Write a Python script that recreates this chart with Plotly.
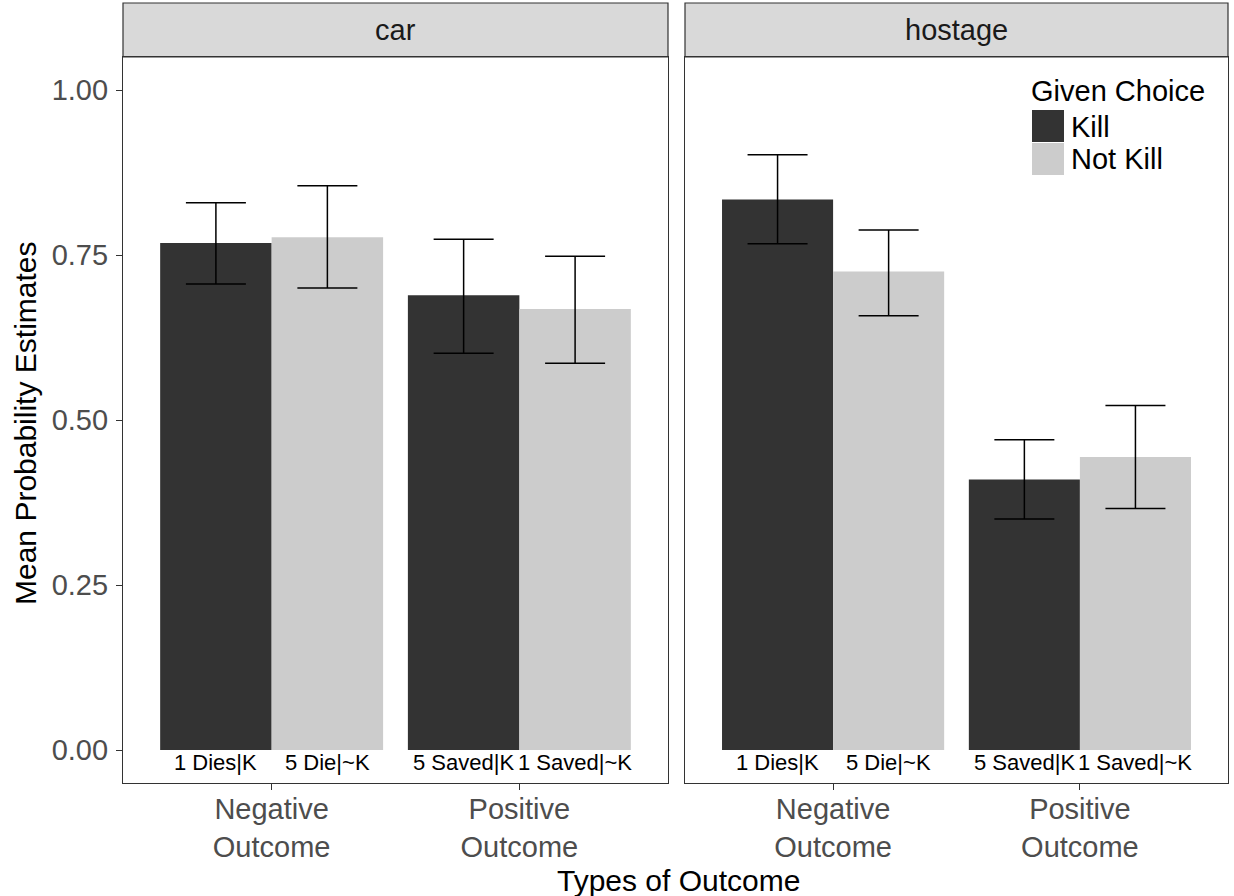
import plotly.graph_objects as go

# ---------------- data ----------------
facets = ["car", "hostage"]
outcomes = ["Negative<br>Outcome", "Positive<br>Outcome"]
choices = ["Kill", "Not Kill"]
choice_colors = ["#333333", "#cccccc"]

# mean probability estimates [Negative, Positive]
car_kill = [0.768, 0.689]
car_notkill = [0.777, 0.668]
hostage_kill = [0.834, 0.410]
hostage_notkill = [0.725, 0.444]

# error bar upper / lower ends
car_kill_hi = [0.829, 0.774]
car_kill_lo = [0.706, 0.601]
car_notkill_hi = [0.855, 0.748]
car_notkill_lo = [0.700, 0.586]
hostage_kill_hi = [0.902, 0.470]
hostage_kill_lo = [0.767, 0.350]
hostage_notkill_hi = [0.788, 0.522]
hostage_notkill_lo = [0.658, 0.366]

# labels printed under each bar
kill_labels = ["1 Dies|K", "5 Saved|K"]
notkill_labels = ["5 Die|~K", "1 Saved|~K"]

y_ticks = [0.0, 0.25, 0.50, 0.75, 1.00]

series = {
    "car": [(car_kill, car_kill_hi, car_kill_lo), (car_notkill, car_notkill_hi, car_notkill_lo)],
    "hostage": [(hostage_kill, hostage_kill_hi, hostage_kill_lo),
                (hostage_notkill, hostage_notkill_hi, hostage_notkill_lo)],
}
bar_labels = [kill_labels, notkill_labels]

# ---------------- figure ----------------
W, H = 1234, 896
ML, MR, MT, MB = 123, 6, 3, 113
plot_w = W - ML - MR
plot_h = H - MT - MB
strip_h = 54
panel_top = (plot_h - strip_h) / plot_h

FONT = "Liberation Sans, Arial, sans-serif"
TXT = 29
x_pos = list(range(len(outcomes)))
bar_w = 0.9 / len(choices)

fig = go.Figure()
axes = [("x", "y"), ("x2", "y2")]
annotations = []
shapes = []

for f, facet in enumerate(facets):
    xa, ya = axes[f]
    for c, choice in enumerate(choices):
        mean, hi, lo = series[facet][c]
        fig.add_trace(go.Bar(
            x=x_pos, y=mean, name=choice, xaxis=xa, yaxis=ya,
            marker=dict(color=choice_colors[c], line=dict(width=0)),
            showlegend=False, offsetgroup=str(c),
            error_y=dict(type="data", symmetric=False,
                         array=[h - m for h, m in zip(hi, mean)],
                         arrayminus=[m - l for m, l in zip(mean, lo)],
                         color="black", thickness=1.5, width=30),
        ))
        for i, lab in enumerate(bar_labels[c]):
            annotations.append(dict(
                x=x_pos[i] + (c - (len(choices) - 1) / 2) * bar_w, y=0,
                xref=xa, yref=ya, text=lab, showarrow=False,
                yanchor="top", xanchor="center", yshift=2,
                font=dict(family=FONT, size=22, color="black")))
    # strip
    dom = "x domain" if f == 0 else "x2 domain"
    shapes.append(dict(type="rect", xref=dom, yref="paper", x0=0, x1=1,
                       y0=panel_top, y1=1.0, fillcolor="#d9d9d9",
                       line=dict(color="#333333", width=1.2), layer="below"))
    annotations.append(dict(xref=dom, yref="paper", x=0.5, y=(panel_top + 1) / 2,
                            xanchor="center", yanchor="middle",
                            text=facet, showarrow=False,
                            font=dict(family=FONT, size=TXT, color="#1a1a1a")))

# legend drawn in the hostage panel
def px_x(px):
    return (px - ML) / plot_w

def px_y(py):
    return (MT + plot_h - py) / plot_h

annotations.append(dict(xref="paper", yref="paper", x=px_x(1029), y=px_y(91),
                        xanchor="left", yanchor="middle", text="Given Choice",
                        showarrow=False, font=dict(family=FONT, size=TXT, color="black")))
key = 33
for c, choice in enumerate(choices):
    top = 110 + c * key
    shapes.append(dict(type="rect", xref="paper", yref="paper",
                       x0=px_x(1032), x1=px_x(1032 + key - 1),
                       y0=px_y(top + key - 1), y1=px_y(top),
                       fillcolor=choice_colors[c], line=dict(width=0)))
    annotations.append(dict(xref="paper", yref="paper", x=px_x(1069), y=px_y(top + key / 2),
                            xanchor="left", yanchor="middle", text=choice, showarrow=False,
                            font=dict(family=FONT, size=TXT, color="black")))

# axis titles
annotations.append(dict(xref="paper", yref="paper", x=px_x(678), y=px_y(880),
                        xanchor="center", yanchor="middle",
                        text="Types of Outcome", showarrow=False,
                        font=dict(family=FONT, size=30, color="black")))
annotations.append(dict(xref="paper", yref="paper", x=px_x(25), y=px_y(423),
                        xanchor="center", yanchor="middle",
                        text="Mean Probability Estimates", showarrow=False, textangle=-90,
                        font=dict(family=FONT, size=30, color="black")))

xcommon = dict(range=[-0.6, len(outcomes) - 1 + 0.6], tickvals=x_pos, ticktext=outcomes,
               showgrid=False, zeroline=False, showline=True, mirror=True,
               linecolor="#333333", linewidth=1.2, ticks="outside", ticklen=6,
               tickcolor="#333333", tickwidth=1.2, ticklabelstandoff=-6,
               tickfont=dict(family=FONT, size=TXT, color="#4d4d4d"), fixedrange=True)
ycommon = dict(range=[-0.05, 1.05], showgrid=False, zeroline=False, showline=True,
               mirror=True, linecolor="#333333", linewidth=1.2,
               domain=[0, panel_top], fixedrange=True)

fig.update_layout(
    width=W, height=H, margin=dict(l=ML, r=MR, t=MT, b=MB),
    paper_bgcolor="white", plot_bgcolor="white",
    barmode="group", bargap=0.1, bargroupgap=0,
    showlegend=False,
    font=dict(family=FONT),
    xaxis=dict(domain=[0, px_x(668)], **xcommon),
    xaxis2=dict(domain=[px_x(685), 1.0], **xcommon),
    yaxis=dict(anchor="x", tickvals=y_ticks, tickformat=".2f", ticks="outside",
               ticklen=6, tickcolor="#333333", tickwidth=1.2, ticklabelstandoff=2,
               tickfont=dict(family=FONT, size=TXT, color="#4d4d4d"), **ycommon),
    yaxis2=dict(anchor="x2", matches="y", showticklabels=False, ticks="", **ycommon),
    annotations=annotations, shapes=shapes,
)

fig.write_html("out.html", config={"displayModeBar": False},
               post_script="document.body.style.margin='0';")
